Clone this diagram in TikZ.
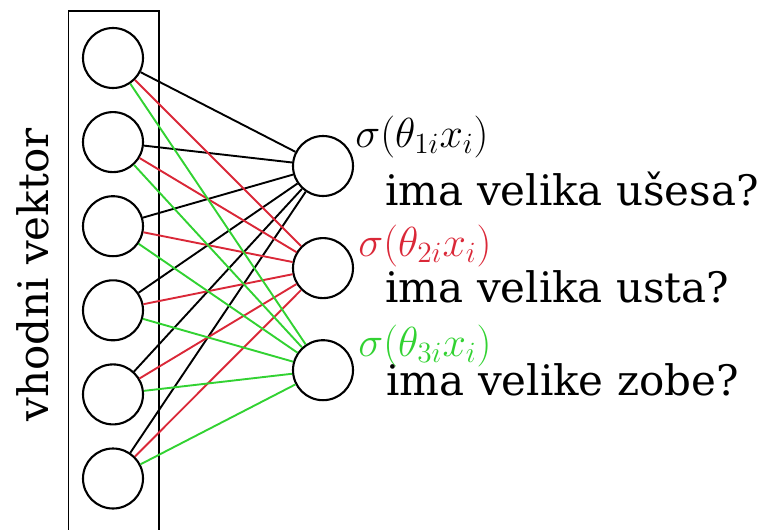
\documentclass[tikz,border=0pt]{standalone}
\usepackage{fix-cm}
\usepackage{fontspec}
\setmainfont{DejaVu Serif}
\usetikzlibrary{positioning}
\definecolor{wred}{RGB}{218,40,56}
\definecolor{wgreen}{RGB}{50,210,50}

\begin{document}
\begin{tikzpicture}[
        x=0.5pt, y=-0.5pt,
        node distance=11pt,
        neuron/.style={draw, circle, line width=1.05pt, minimum size=30pt, inner sep=0pt},
        lab/.style={font=\fontsize{21}{25}\selectfont, inner sep=0pt},
        link/.style={line width=0.95pt}
    ]
        \useasboundingbox (0,0) rectangle (761,530);
        \draw[line width=0.95pt] (68.5,11) rectangle (159,545);

        % input vector
        \node[neuron] (x1) at (113,58) {};
        \node[neuron, below=of x1] (x2) {};
        \node[neuron, below=of x2] (x3) {};
        \node[neuron, below=of x3] (x4) {};
        \node[neuron, below=of x4] (x5) {};
        \node[neuron, below=of x5] (x6) {};

        % outputs
        \node[neuron] (y1) at (323,166) {};
        \node[neuron, below=20pt of y1] (y2) {};
        \node[neuron, below=20pt of y2] (y3) {};

        \foreach \o/\c in {1/black, 2/wred, 3/wgreen}
            \foreach \i in {1,...,6}
                \draw[link, \c] (x\i) -- (y\o);

        \node[lab, rotate=90, anchor=base] (vhod) at (48,275) {vhodni vektor};

        \node[lab, anchor=base west] (s1) at (355,147) {$\sigma(\theta_{1i}x_i)$};
        \node[lab, anchor=base west] (q1) at (385,205) {ima velika ušesa?};
        \node[lab, anchor=base west, text=wred] (s2) at (358,256) {$\sigma(\theta_{2i}x_i)$};
        \node[lab, anchor=base west] (q2) at (385,302) {ima velika usta?};
        \node[lab, anchor=base west, text=wgreen] (s3) at (358,356) {$\sigma(\theta_{3i}x_i)$};
        \node[lab, anchor=base west] (q3) at (386,395) {ima velike zobe?};
    \end{tikzpicture}
\end{document}
